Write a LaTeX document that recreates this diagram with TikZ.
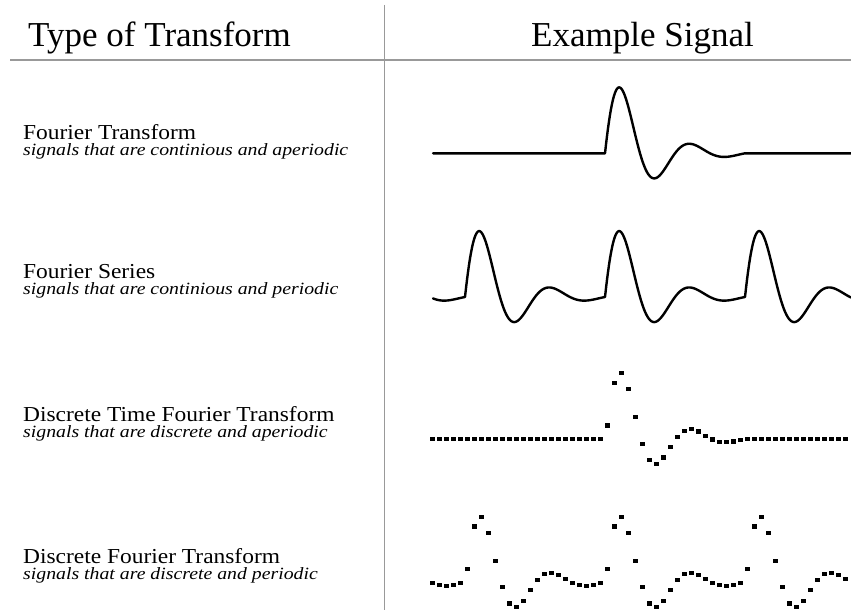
\documentclass[tikz,border=0pt]{standalone}
\usepackage{fontspec}
\setmainfont{Liberation Serif}
\newfontfamily\lblfont[FakeStretch=1.1]{Liberation Serif}
\newfontfamily\subfont[FakeStretch=1.15]{Liberation Serif}
\begin{document}
\begin{tikzpicture}[x=1pt,y=-1pt,
  declare function={sig(\t)=102*exp(-0.0276*\t)*sin(5.142857*\t);},
  rule/.style={draw=black!40, line width=1.2pt},
  head/.style={anchor=base, inner sep=0pt, font=\fontsize{35}{38}\selectfont},
  title/.style={anchor=base west, inner sep=0pt, font=\lblfont\fontsize{21.3}{24}\selectfont},
  sub/.style={anchor=base west, inner sep=0pt, font=\subfont\itshape\fontsize{17.2}{20}\selectfont},
  wave/.style={line width=2.4pt, line join=round, line cap=round},
  dot/.style={fill=black}]
\useasboundingbox (0,0) rectangle (851,610);
% rules
\coordinate (vt) at (384.5,5);
\coordinate (vb) at (384.5,610);
\coordinate (hl) at (10,60);
\coordinate (hr) at (851,60);
\draw[rule] (vt) -- (vb);
\draw[rule] (hl) -- (hr);
% headers
\node[head] (h1) at (159.5,46.5) {Type of Transform};
\node[head] (h2) at (642.5,46.5) {Example Signal};
% row labels
\node[title] (t1) at (23,139.5) {Fourier Transform};
\node[sub]   (s1) at (23,155.5) {signals that are continious and aperiodic};
\node[title] (t2) at (23,278) {Fourier Series};
\node[sub]   (s2) at (23,294.5) {signals that are continious and periodic};
\node[title] (t3) at (23,421) {Discrete Time Fourier Transform};
\node[sub]   (s3) at (23,437.5) {signals that are discrete and aperiodic};
\node[title] (t4) at (23,563) {Discrete Fourier Transform};
\node[sub]   (s4) at (23,579.5) {signals that are discrete and periodic};
% row 1: continuous aperiodic
\draw[wave] (433,153.3) -- (605,153.3)
  -- plot[domain=0:140, samples=141] ({605+\x},{153.3-sig(\x)})
  -- (851,153.3);
% row 2: continuous periodic
\draw[wave] plot[domain=433:851, samples=419] (\x,{297-sig(mod(\x+95,140))});
% row 3: discrete aperiodic
\foreach \n in {0,...,59}{
  \pgfmathsetmacro\xx{432.5+7*\n}
  \pgfmathsetmacro\tt{\xx-606}
  \pgfmathsetmacro\yy{438.7-sig(max(\tt,0))*(\tt<140)}
  \fill[dot] (\xx-2.1,\yy-2.1) rectangle (\xx+2.1,\yy+2.1);
}
% row 4: discrete periodic
\foreach \n in {0,...,59}{
  \pgfmathsetmacro\xx{432.5+7*\n}
  \pgfmathsetmacro\tt{mod(526.5+7*\n,140)}
  \pgfmathsetmacro\yy{582.2-sig(\tt)}
  \fill[dot] (\xx-2.1,\yy-2.1) rectangle (\xx+2.1,\yy+2.1);
}
\end{tikzpicture}
\end{document}
